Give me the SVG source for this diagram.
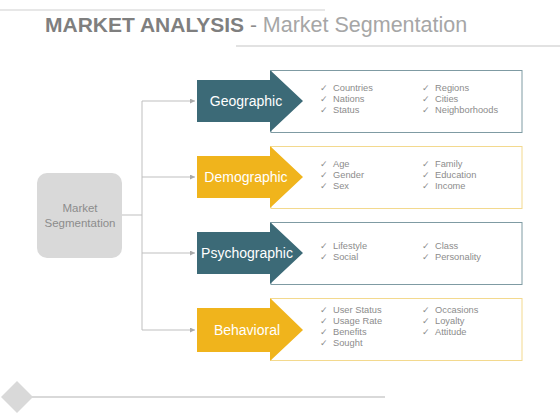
<svg xmlns="http://www.w3.org/2000/svg" width="560" height="420" viewBox="0 0 560 420">
<style>
.t{font-family:"Liberation Sans",Arial,sans-serif}
.lbl{font-family:"Liberation Sans",Arial,sans-serif;font-size:14px;fill:#fff;text-anchor:middle}
.item{font-family:"Liberation Sans",Arial,sans-serif;font-size:9.3px;fill:#8c8c8c}
.chk{font-family:"DejaVu Sans",sans-serif;font-size:9px;fill:#8c8c8c}
.teal{fill:#3c6a77}
.gold{fill:#f0b41c}
.boxT{fill:#fff;stroke:#7f9ba3;stroke-width:1}
.boxG{fill:#fff;stroke:#f3d98e;stroke-width:1}
.conn{stroke:#bfbfbf;stroke-width:1;fill:none}
</style>
<defs>
<marker id="ah" viewBox="0 0 6 6" refX="6" refY="3" markerWidth="5" markerHeight="5" orient="auto" markerUnits="userSpaceOnUse">
<path d="M0,0 L6,3 L0,6 Z" fill="#aaaaaa"/>
</marker>
</defs>
<rect width="560" height="420" fill="#fff"/>
<!-- header -->
<line x1="0" y1="10" x2="325" y2="10" stroke="#cfcfcf" stroke-width="1"/>
<line x1="236" y1="46" x2="560" y2="46" stroke="#d9d9d9" stroke-width="1.5"/>
<text class="t" x="45" y="32" font-size="21"><tspan font-weight="bold" fill="#7f7f7f">MARKET ANALYSIS</tspan><tspan fill="#8c8c8c"> - </tspan><tspan fill="#a6a6a6" font-size="21.5">Market Segmentation</tspan></text>
<!-- footer -->
<line x1="17" y1="397" x2="385" y2="397" stroke="#d9d9d9" stroke-width="2"/>
<polygon points="17,381 33,397 17,413 1,397" fill="#d9d9d9"/>
<!-- connectors -->
<g id="connectors">
<path class="conn" d="M122,215 H142"/>
<path class="conn" d="M142,101 V330"/>
<path class="conn" d="M142,101 H195" marker-end="url(#ah)"/>
<path class="conn" d="M142,177 H195" marker-end="url(#ah)"/>
<path class="conn" d="M142,253 H195" marker-end="url(#ah)"/>
<path class="conn" d="M142,330 H195" marker-end="url(#ah)"/>
</g>
<!-- root -->
<g id="market-segmentation">
<rect x="37" y="173" width="85" height="85" rx="10" fill="#d9d9d9"/>
<text class="t" x="80" y="212" font-size="11.5" fill="#8c8c8c" text-anchor="middle">Market</text>
<text class="t" x="80" y="227" font-size="11.5" fill="#8c8c8c" text-anchor="middle">Segmentation</text>
</g>
<!-- Geographic -->
<g id="geographic">
<rect class="boxT" x="271" y="70.5" width="251" height="62"/>
<polygon class="teal" points="197,80 270,80 270,70 303,101 270,132 270,122 197,122"/>
<text class="lbl" x="246" y="106">Geographic</text>
<text class="chk" x="320" y="91">✓</text><text class="item" x="333" y="91">Countries</text>
<text class="chk" x="320" y="102">✓</text><text class="item" x="333" y="102">Nations</text>
<text class="chk" x="320" y="113">✓</text><text class="item" x="333" y="113">Status</text>
<text class="chk" x="422" y="91">✓</text><text class="item" x="435" y="91">Regions</text>
<text class="chk" x="422" y="102">✓</text><text class="item" x="435" y="102">Cities</text>
<text class="chk" x="422" y="113">✓</text><text class="item" x="435" y="113">Neighborhoods</text>
</g>
<!-- Demographic -->
<g id="demographic">
<rect class="boxG" x="271" y="146.5" width="251" height="62"/>
<polygon class="gold" points="197,156 270,156 270,146 303,177 270,208 270,198 197,198"/>
<text class="lbl" x="246" y="182">Demographic</text>
<text class="chk" x="320" y="167">✓</text><text class="item" x="333" y="167">Age</text>
<text class="chk" x="320" y="178">✓</text><text class="item" x="333" y="178">Gender</text>
<text class="chk" x="320" y="189">✓</text><text class="item" x="333" y="189">Sex</text>
<text class="chk" x="422" y="167">✓</text><text class="item" x="435" y="167">Family</text>
<text class="chk" x="422" y="178">✓</text><text class="item" x="435" y="178">Education</text>
<text class="chk" x="422" y="189">✓</text><text class="item" x="435" y="189">Income</text>
</g>
<!-- Psychographic -->
<g id="psychographic">
<rect class="boxT" x="271" y="222.5" width="251" height="62"/>
<polygon class="teal" points="197,232 270,232 270,222 303,253 270,284 270,274 197,274"/>
<text class="lbl" x="247" y="258">Psychographic</text>
<text class="chk" x="320" y="249">✓</text><text class="item" x="333" y="249">Lifestyle</text>
<text class="chk" x="320" y="260">✓</text><text class="item" x="333" y="260">Social</text>
<text class="chk" x="422" y="249">✓</text><text class="item" x="435" y="249">Class</text>
<text class="chk" x="422" y="260">✓</text><text class="item" x="435" y="260">Personality</text>
</g>
<!-- Behavioral -->
<g id="behavioral">
<rect class="boxG" x="271" y="298.5" width="251" height="62"/>
<polygon class="gold" points="197,308 270,308 270,298 303,330 270,361 270,352 197,352"/>
<text class="lbl" x="247" y="335">Behavioral</text>
<text class="chk" x="320" y="313">✓</text><text class="item" x="333" y="313">User Status</text>
<text class="chk" x="320" y="324">✓</text><text class="item" x="333" y="324">Usage Rate</text>
<text class="chk" x="320" y="335">✓</text><text class="item" x="333" y="335">Benefits</text>
<text class="chk" x="320" y="346">✓</text><text class="item" x="333" y="346">Sought</text>
<text class="chk" x="422" y="313">✓</text><text class="item" x="435" y="313">Occasions</text>
<text class="chk" x="422" y="324">✓</text><text class="item" x="435" y="324">Loyalty</text>
<text class="chk" x="422" y="335">✓</text><text class="item" x="435" y="335">Attitude</text>
</g>
</svg>
